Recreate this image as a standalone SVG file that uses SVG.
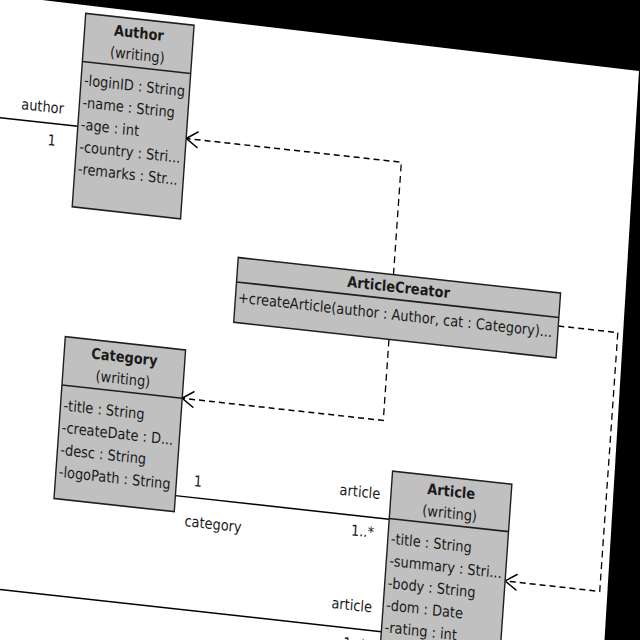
<svg xmlns="http://www.w3.org/2000/svg" width="640" height="640" viewBox="0 0 640 640">
<defs>
<style>
.cls{fill:#c0c0c0;stroke:#1e1e1e;stroke-width:1.4}
.div{stroke:#1e1e1e;stroke-width:1.4}
text{font-family:"DejaVu Sans","Liberation Sans",sans-serif;font-size:13px;fill:#1a1a1a}
.name{font-weight:bold;text-anchor:middle}
.mid{text-anchor:middle}
.assoc{fill:none;stroke:#000;stroke-width:1.3}
.dep{fill:none;stroke:#000;stroke-width:1.3;stroke-dasharray:6,4}
</style>
<marker id="open" viewBox="0 0 16 16" markerWidth="16" markerHeight="16" refX="14" refY="8" orient="auto" markerUnits="userSpaceOnUse">
<path d="M2,1 L14,8 L2,15" fill="none" stroke="#000" stroke-width="1.3"/>
</marker>
</defs>
<rect width="640" height="640" fill="#000"/>
<polygon points="0,-5 639,71 604.5,640 0,640" fill="#fff"/>
<g transform="matrix(0.994 0.1097 -0.0802 1.1472 0 0)">
<g id="connectors">
<path class="assoc" d="M-60,101.8 H86.5"/>
<path class="assoc" d="M209.5,412 H424.8"/>
<path class="assoc" d="M-60,510 H424.8"/>
<path class="dep" d="M412,200 V102 H195.5" marker-end="url(#open)"/>
<path class="dep" d="M412,256.5 V327.1 H209.5" marker-end="url(#open)"/>
<path class="dep" d="M580.1,228.7 H640 V454.3 H544.8" marker-end="url(#open)"/>
<text class="mid" x="50" y="92.5">author</text>
<text class="mid" x="61.4" y="121">1</text>
<text class="mid" x="231.3" y="402">1</text>
<text class="mid" x="249.3" y="437.5">category</text>
<text class="mid" x="393.7" y="395.5">article</text>
<text class="mid" x="399" y="429.5">1..*</text>
<text class="mid" x="393.4" y="494.3">article</text>
<text class="mid" x="399" y="527.5">1..*</text>
</g>
<g id="Author">
<rect class="cls" x="86.5" y="3.3" width="109" height="168.7"/>
<line class="div" x1="86.5" y1="45.4" x2="195.5" y2="45.4"/>
<text class="name" x="141" y="19.8">Author</text>
<text class="mid" x="141" y="38.8">(writing)</text>
<text x="89.5" y="65.8">-loginID : String</text>
<text x="89.5" y="85.1">-name : String</text>
<text x="89.5" y="104.4">-age : int</text>
<text x="89.5" y="123.7">-country : Stri...</text>
<text x="89.5" y="143">-remarks : Str...</text>
</g>
<g id="ArticleCreator">
<rect class="cls" x="255.8" y="200" width="324.3" height="56.5"/>
<line class="div" x1="255.8" y1="221.3" x2="580.1" y2="221.3"/>
<text class="name" x="418" y="215">ArticleCreator</text>
<text x="258.5" y="239">+createArticle(author : Author, cat : Category)...</text>
</g>
<g id="Category">
<rect class="cls" x="88.7" y="285" width="121" height="141"/>
<line class="div" x1="88.7" y1="327.1" x2="209.7" y2="327.1"/>
<text class="name" x="149.2" y="301.5">Category</text>
<text class="mid" x="149.2" y="320.5">(writing)</text>
<text x="91.7" y="349">-title : String</text>
<text x="91.7" y="368.3">-createDate : D...</text>
<text x="91.7" y="387.6">-desc : String</text>
<text x="91.7" y="406.9">-logoPath : String</text>
</g>
<g id="Article">
<rect class="cls" x="424.8" y="370" width="120" height="250"/>
<line class="div" x1="424.8" y1="411.3" x2="544.8" y2="411.3"/>
<text class="name" x="484.8" y="386.5">Article</text>
<text class="mid" x="484.8" y="405.5">(writing)</text>
<text x="427.8" y="433">-title : String</text>
<text x="427.8" y="452.3">-summary : Stri...</text>
<text x="427.8" y="471.6">-body : String</text>
<text x="427.8" y="490.9">-dom : Date</text>
<text x="427.8" y="510.2">-rating : int</text>
</g>
</g>
</svg>
